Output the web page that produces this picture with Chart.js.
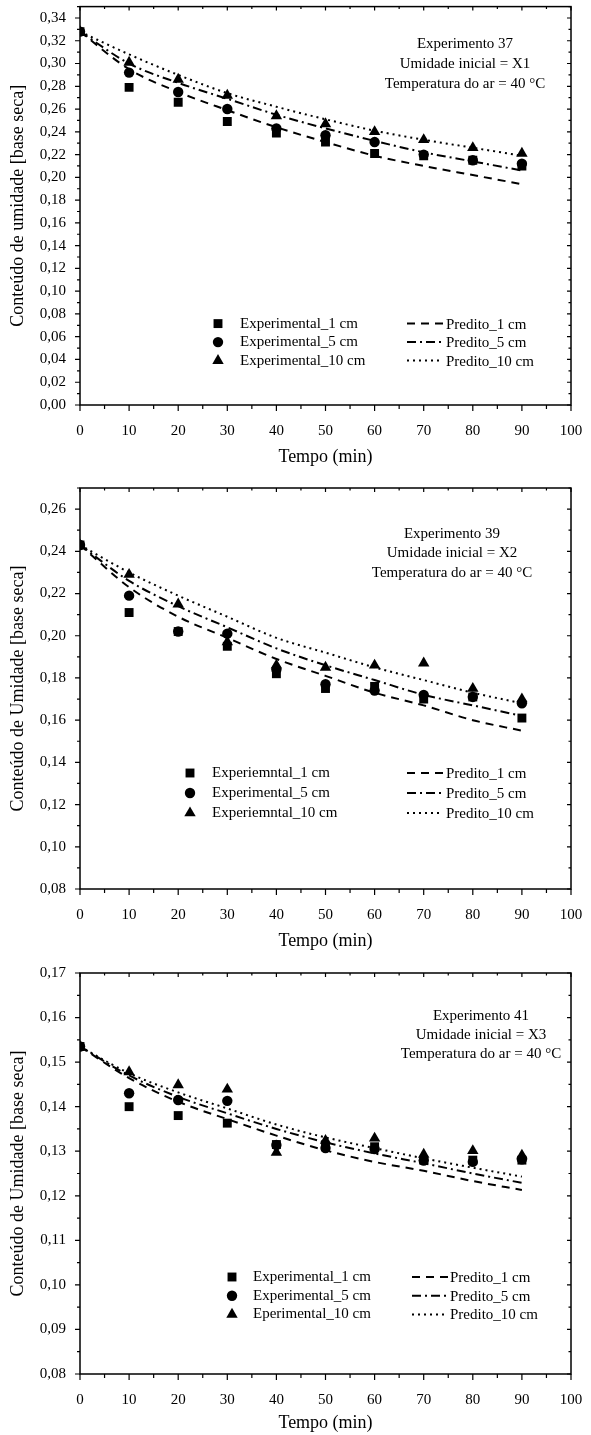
<!DOCTYPE html>
<html>
<head>
<meta charset="utf-8">
<script src="https://cdn.jsdelivr.net/npm/chart.js@4.4.1/dist/chart.umd.min.js"></script>
<style>
  html, body { margin: 0; padding: 0; background: #fff; }
  #wrap { position: relative; width: 591px; height: 1435px; overflow: hidden; }
  canvas { position: absolute; left: 0; }
</style>
</head>
<body>
<div id="wrap">
  <canvas id="c37" style="top:0px"></canvas>
  <canvas id="c39" style="top:468px"></canvas>
  <canvas id="c41" style="top:953px"></canvas>
</div>
<script>
// time axis (min)
const tempo = [0, 10, 20, 30, 40, 50, 60, 70, 80, 90];
const xTicks = [0, 10, 20, 30, 40, 50, 60, 70, 80, 90, 100];

// Experimento 37
const exp37_1cm  = [0.328, 0.279, 0.266, 0.249, 0.239, 0.231, 0.221, 0.219, 0.215, 0.210];
const exp37_5cm  = [0.328, 0.292, 0.275, 0.260, 0.243, 0.237, 0.231, 0.220, 0.215, 0.212];
const exp37_10cm = [0.328, 0.301, 0.286, 0.272, 0.254, 0.247, 0.240, 0.233, 0.226, 0.221];
const pred37_1cm  = [0.328, 0.295, 0.275, 0.259, 0.244, 0.231, 0.219, 0.210, 0.202, 0.194];
const pred37_5cm  = [0.328, 0.300, 0.283, 0.269, 0.255, 0.243, 0.232, 0.222, 0.214, 0.206];
const pred37_10cm = [0.328, 0.308, 0.290, 0.274, 0.262, 0.251, 0.241, 0.233, 0.226, 0.219];
const yTicks37 = [0, 0.02, 0.04, 0.06, 0.08, 0.10, 0.12, 0.14, 0.16, 0.18, 0.20, 0.22, 0.24, 0.26, 0.28, 0.30, 0.32, 0.34];

// Experimento 39
const exp39_1cm  = [0.243, 0.211, 0.202, 0.195, 0.182, 0.175, 0.176, 0.170, 0.171, 0.161];
const exp39_5cm  = [0.243, 0.219, 0.202, 0.201, 0.184, 0.177, 0.174, 0.172, 0.171, 0.168];
const exp39_10cm = [0.243, 0.229, 0.215, 0.197, 0.186, 0.185, 0.186, 0.187, 0.175, 0.170];
const pred39_1cm  = [0.243, 0.223, 0.209, 0.199, 0.189, 0.181, 0.173, 0.167, 0.160, 0.155];
const pred39_5cm  = [0.243, 0.226, 0.214, 0.204, 0.194, 0.186, 0.179, 0.172, 0.167, 0.162];
const pred39_10cm = [0.243, 0.230, 0.219, 0.209, 0.199, 0.192, 0.185, 0.179, 0.173, 0.168];
const yTicks39 = [0.08, 0.10, 0.12, 0.14, 0.16, 0.18, 0.20, 0.22, 0.24, 0.26];

// Experimento 41
const exp41_1cm  = [0.1535, 0.1400, 0.1380, 0.1363, 0.1315, 0.1310, 0.1310, 0.1280, 0.1280, 0.1280];
const exp41_5cm  = [0.1535, 0.1430, 0.1415, 0.1413, 0.1314, 0.1307, 0.1305, 0.1279, 0.1276, 0.1282];
const exp41_10cm = [0.1535, 0.1478, 0.1449, 0.1439, 0.1297, 0.1324, 0.1329, 0.1293, 0.1301, 0.1291];
const pred41_1cm  = [0.1535, 0.1464, 0.1411, 0.1372, 0.1335, 0.1302, 0.1276, 0.1256, 0.1233, 0.1213];
const pred41_5cm  = [0.1535, 0.1470, 0.1422, 0.1385, 0.1350, 0.1320, 0.1295, 0.1273, 0.1250, 0.1229];
const pred41_10cm = [0.1535, 0.1475, 0.1432, 0.1396, 0.1360, 0.1331, 0.1307, 0.1284, 0.1263, 0.1243];
const yTicks41 = [0.08, 0.09, 0.10, 0.11, 0.12, 0.13, 0.14, 0.15, 0.16, 0.17];

const BLACK = '#000';
const SERIF = '"Liberation Serif", "Times New Roman", serif';

function pts(ys) {
  return tempo.map((t, i) => ({ x: t, y: ys[i] }));
}
function marker(label, ys, style, r) {
  return {
    label, data: pts(ys), showLine: false,
    pointStyle: style, pointRadius: r, pointHoverRadius: r,
    pointBackgroundColor: BLACK, pointBorderColor: BLACK, pointBorderWidth: 0,
    borderColor: BLACK, backgroundColor: BLACK
  };
}
function curve(label, ys, dash) {
  return {
    label, data: pts(ys), borderColor: BLACK, borderWidth: 2, borderDash: dash,
    pointRadius: 0, cubicInterpolationMode: 'monotone', fill: false
  };
}

// frame, tick marks, legend and the text block
const decor = {
  id: 'decor',
  afterDraw(chart, args, o) {
    const ctx = chart.ctx;
    const a = chart.chartArea;
    const xs = chart.scales.x, ys = chart.scales.y;
    ctx.save();
    ctx.strokeStyle = BLACK;
    ctx.lineWidth = 1.5;
    ctx.setLineDash([]);
    ctx.strokeRect(a.left, a.top, a.right - a.left, a.bottom - a.top);

    ctx.lineWidth = 1.2;
    ctx.beginPath();
    for (let v = 0; v <= 100; v += 5) {
      const px = xs.getPixelForValue(v);
      const major = v % 10 === 0;
      ctx.moveTo(px, a.bottom); ctx.lineTo(px, a.bottom + (major ? 6 : 4));
      ctx.moveTo(px, a.top); ctx.lineTo(px, a.top + (major ? 4 : 2.5));
    }
    const n = Math.round((o.yMax - o.yMin) / o.yMinor);
    for (let k = 0; k <= n; k++) {
      const v = o.yMin + k * o.yMinor;
      const py = ys.getPixelForValue(v);
      const major = o.yTicks.some(t => Math.abs(t - v) < 1e-9);
      ctx.moveTo(a.left, py); ctx.lineTo(a.left - (major ? 5 : 3), py);
      ctx.moveTo(a.right, py); ctx.lineTo(a.right - (major ? 4 : 2.5), py);
    }
    ctx.stroke();

    // legend
    const L = o.legend;
    ctx.font = '15px ' + SERIF;
    ctx.textBaseline = 'middle';
    ctx.textAlign = 'left';
    ctx.fillStyle = BLACK;
    for (let i = 0; i < 3; i++) {
      const ds = chart.data.datasets[i];
      const y = a.top + L.y + i * L.gap;
      Chart.helpers.drawPoint(ctx, { pointStyle: ds.pointStyle, radius: ds.pointRadius, rotation: 0, borderWidth: 0 }, a.left + L.mx, y);
      ctx.fillStyle = BLACK;
      ctx.fillText(ds.label, a.left + L.tx, y);
    }
    for (let i = 0; i < 3; i++) {
      const ds = chart.data.datasets[i + 3];
      const y = a.top + L.y + i * L.gap;
      ctx.lineWidth = 2;
      ctx.setLineDash(ds.borderDash);
      ctx.beginPath();
      ctx.moveTo(a.left + L.lx0, y); ctx.lineTo(a.left + L.lx1, y);
      ctx.stroke();
      ctx.setLineDash([]);
      ctx.fillText(ds.label, a.left + L.ltx, y + 1);
    }

    // text block
    const N = o.note;
    ctx.textAlign = 'center';
    N.lines.forEach((s, i) => ctx.fillText(s, a.left + N.x, a.top + N.y + i * N.gap));
    ctx.restore();
  }
};

function build(id, h, padTop, xH, titlePad, yTitle, yMin, yMax, yTicks, yMinor, sets, legend, note) {
  const cv = document.getElementById(id);
  cv.width = 591; cv.height = h;
  cv.style.width = '591px'; cv.style.height = h + 'px';
  return new Chart(cv, {
    type: 'line',
    data: { datasets: sets },
    options: {
      responsive: false, animation: false, events: [],
      layout: { padding: { top: padTop, right: 20, left: 0, bottom: 0 } },
      scales: {
        x: {
          type: 'linear', min: 0, max: 100,
          afterBuildTicks: s => { s.ticks = xTicks.map(v => ({ value: v })); },
          afterFit: s => { s.height = xH; s.paddingLeft = 0; s.paddingRight = 0; },
          grid: { display: false }, border: { display: false },
          ticks: { color: BLACK, font: { family: SERIF, size: 15 }, padding: 9, maxRotation: 0 },
          title: { display: true, text: 'Tempo (min)', color: BLACK, font: { family: SERIF, size: 18 }, padding: { top: 0, bottom: titlePad } }
        },
        y: {
          type: 'linear', min: yMin, max: yMax,
          afterBuildTicks: s => { s.ticks = yTicks.map(v => ({ value: v })); },
          afterFit: s => { s.width = 80; s.paddingTop = 0; s.paddingBottom = 0; },
          grid: { display: false }, border: { display: false },
          ticks: { color: BLACK, font: { family: SERIF, size: 15 }, padding: 6,
                   callback: v => v.toFixed(2).replace('.', ',') },
          title: { display: true, text: yTitle, color: BLACK, font: { family: SERIF, size: 18 }, padding: { top: 7, bottom: 0 } }
        }
      },
      plugins: {
        legend: { display: false }, tooltip: { enabled: false },
        decor: { yMin, yMax, yTicks, yMinor, legend, note }
      }
    },
    plugins: [decor]
  });
}

const DASH = [8, 6], DASHDOT = [9, 4, 2, 4], DOT = [2, 4];

build('c37', 480, 5, 75, 12, 'Conteúdo de umidade [base seca]', 0, 0.35, yTicks37, 0.01, [
  marker('Experimental_1 cm', exp37_1cm, 'rect', 6.3),
  marker('Experimental_5 cm', exp37_5cm, 'circle', 5.2),
  marker('Experimental_10 cm', exp37_10cm, 'triangle', 6.6),
  curve('Predito_1 cm', pred37_1cm, DASH),
  curve('Predito_5 cm', pred37_5cm, DASHDOT),
  curve('Predito_10 cm', pred37_10cm, DOT)
], { mx: 138, tx: 160, y: 317, gap: 18.5, lx0: 327, lx1: 363, ltx: 366 },
   { x: 385, y: 37, gap: 20, lines: ['Experimento 37', 'Umidade inicial = X1', 'Temperatura do ar = 40 °C'] });

build('c39', 496, 20, 75, 12, 'Conteúdo de Umidade [base seca]', 0.08, 0.27, yTicks39, 0.01, [
  marker('Experiemntal_1 cm', exp39_1cm, 'rect', 6.3),
  marker('Experimental_5 cm', exp39_5cm, 'circle', 5.2),
  marker('Experiemntal_10 cm', exp39_10cm, 'triangle', 6.6),
  curve('Predito_1 cm', pred39_1cm, DASH),
  curve('Predito_5 cm', pred39_5cm, DASHDOT),
  curve('Predito_10 cm', pred39_10cm, DOT)
], { mx: 110, tx: 132, y: 285, gap: 20, lx0: 327, lx1: 363, ltx: 366 },
   { x: 372, y: 46, gap: 19.5, lines: ['Experimento 39', 'Umidade inicial = X2', 'Temperatura do ar = 40 °C'] });

build('c41', 482, 20, 61, 1, 'Conteúdo de Umidade [base seca]', 0.08, 0.17, yTicks41, 0.005, [
  marker('Experimental_1 cm', exp41_1cm, 'rect', 6.3),
  marker('Experimental_5 cm', exp41_5cm, 'circle', 5.2),
  marker('Eperimental_10 cm', exp41_10cm, 'triangle', 6.6),
  curve('Predito_1 cm', pred41_1cm, DASH),
  curve('Predito_5 cm', pred41_5cm, DASHDOT),
  curve('Predito_10 cm', pred41_10cm, DOT)
], { mx: 152, tx: 173, y: 304, gap: 18.7, lx0: 332, lx1: 368, ltx: 370 },
   { x: 401, y: 43, gap: 19, lines: ['Experimento 41', 'Umidade inicial = X3', 'Temperatura do ar = 40 °C'] });
</script>
</body>
</html>
